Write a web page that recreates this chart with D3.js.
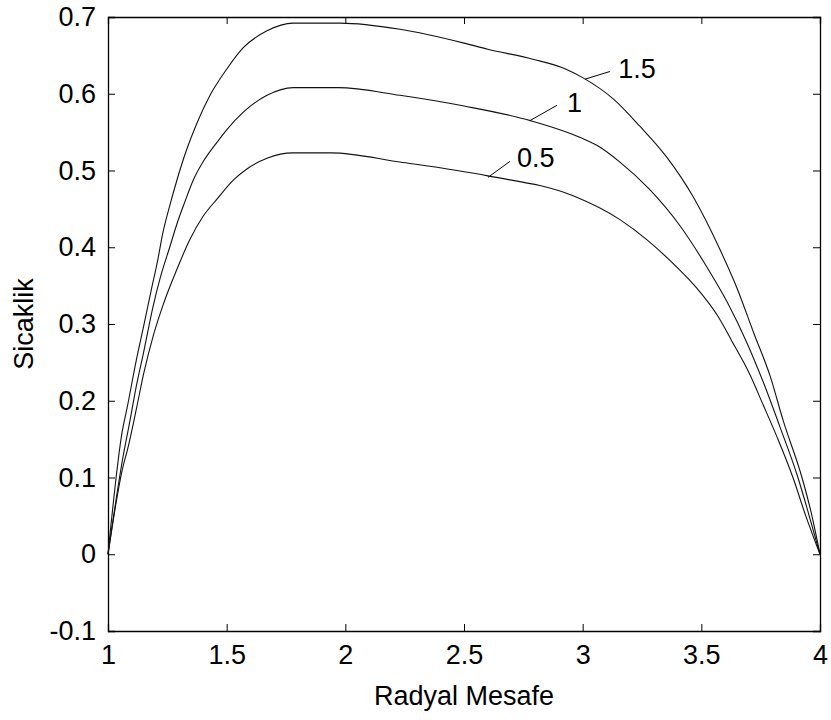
<!DOCTYPE html>
<html>
<head>
<meta charset="utf-8">
<script src="https://cdn.jsdelivr.net/npm/d3@7"></script>
<style>
  body { margin: 0; background: #fff; }
  svg text { font-family: Arial, "Liberation Sans", sans-serif; }
</style>
</head>
<body>
<div id="chart"></div>
<script>
// Datos: [radio, temperatura]
const serie05 = [
  [1.00, 0], [1.06, 0.11], [1.085, 0.14], [1.12, 0.19], [1.15, 0.235], [1.19, 0.284],
  [1.23, 0.323], [1.29, 0.371], [1.345, 0.410], [1.40, 0.440], [1.46, 0.463], [1.53, 0.488],
  [1.585, 0.502], [1.67, 0.516], [1.78, 0.523], [1.94, 0.523], [2.23, 0.511], [2.60, 0.493],
  [2.96, 0.467], [3.157, 0.436], [3.27, 0.410], [3.40, 0.373], [3.48, 0.347], [3.57, 0.310],
  [3.63, 0.277], [3.70, 0.237], [3.76, 0.195], [3.82, 0.152], [3.886, 0.10], [3.94, 0.05], [4.00, 0]
];
const serie1 = [
  [1.00, 0], [1.065, 0.13], [1.09, 0.17], [1.12, 0.22], [1.15, 0.263], [1.19, 0.323],
  [1.22, 0.360], [1.26, 0.400], [1.29, 0.43], [1.32, 0.456], [1.36, 0.488], [1.40, 0.511],
  [1.46, 0.537], [1.50, 0.553], [1.57, 0.576], [1.67, 0.598], [1.78, 0.608], [1.97, 0.608],
  [2.23, 0.598], [2.50, 0.584], [2.78, 0.565], [2.99, 0.543], [3.07, 0.531], [3.157, 0.511],
  [3.28, 0.476], [3.41, 0.428], [3.52, 0.376], [3.61, 0.328], [3.69, 0.277], [3.76, 0.225],
  [3.83, 0.167], [3.907, 0.10], [3.95, 0.055], [4.00, 0]
];
const serie15 = [
  [1.00, 0], [1.06, 0.16], [1.08, 0.19], [1.12, 0.254], [1.15, 0.297], [1.18, 0.341],
  [1.21, 0.384], [1.23, 0.417], [1.26, 0.454], [1.29, 0.487], [1.33, 0.526], [1.375, 0.562],
  [1.43, 0.598], [1.50, 0.632], [1.57, 0.660], [1.67, 0.682], [1.78, 0.692], [1.98, 0.692],
  [2.23, 0.684], [2.50, 0.666], [2.60, 0.658], [2.79, 0.645], [2.93, 0.632], [3.00, 0.621],
  [3.13, 0.593], [3.24, 0.558], [3.355, 0.517], [3.465, 0.466], [3.58, 0.396], [3.65, 0.347],
  [3.72, 0.289], [3.79, 0.232], [3.845, 0.174], [3.924, 0.10], [3.96, 0.058], [4.00, 0]
];

// Etiquetas de las curvas: texto, punto sobre la curva, fin de la línea guía, posición del texto
const etiquetas = [
  { text: "1.5", p0: [3.01, 0.619], p1: [3.115, 0.629], t: [3.15, 0.620] },
  { text: "1",   p0: [2.778, 0.565], p1: [2.892, 0.585], t: [2.934, 0.576] },
  { text: "0.5", p0: [2.601, 0.491], p1: [2.694, 0.512], t: [2.723, 0.504] }
];

const xTicks = [1, 1.5, 2, 2.5, 3, 3.5, 4];
const yTicks = [-0.1, 0, 0.1, 0.2, 0.3, 0.4, 0.5, 0.6, 0.7];

const W = 831, H = 720;
const margin = { top: 17, right: 11, bottom: 89, left: 108 };
const width = W - margin.left - margin.right;
const height = H - margin.top - margin.bottom;

const svg = d3.select("#chart")
  .append("svg")
  .attr("width", W)
  .attr("height", H)
  .append("g")
  .attr("transform", `translate(${margin.left}, ${margin.top})`);

const x = d3.scaleLinear().domain([1, 4]).range([0, width]);
const y = d3.scaleLinear().domain([-0.1, 0.7]).range([height, 0]);

const fs = 27;
const tickLen = 7;

// Ejes con marcas hacia dentro (estilo MATLAB)
const axB = svg.append("g")
  .attr("transform", `translate(0, ${height})`)
  .call(d3.axisBottom(x).tickValues(xTicks).tickSize(-tickLen).tickPadding(14)
    .tickFormat(d3.format("")));
const axT = svg.append("g")
  .call(d3.axisTop(x).tickValues(xTicks).tickSize(-tickLen).tickFormat(""));
const axL = svg.append("g")
  .call(d3.axisLeft(y).tickValues(yTicks).tickSize(-tickLen).tickPadding(12)
    .tickFormat(d3.format("")));
const axR = svg.append("g")
  .attr("transform", `translate(${width}, 0)`)
  .call(d3.axisRight(y).tickValues(yTicks).tickSize(-tickLen).tickFormat(""));

[axB, axT, axL, axR].forEach(a => {
  a.select(".domain").attr("stroke", "#000").attr("stroke-width", 1.3);
  a.selectAll(".tick line").attr("stroke", "#000").attr("stroke-width", 1);
  a.selectAll("text").attr("font-size", fs).attr("fill", "#000")
    .style("font-family", "Arial, 'Liberation Sans', sans-serif");
});
axL.selectAll("text").text(d => d === 0 ? "0" : d3.format("")(d).replace("−", "-"));

// Curvas
const line = d3.line()
  .x(d => x(d[0]))
  .y(d => y(d[1]))
  .curve(d3.curveMonotoneX);
[serie05, serie1, serie15].forEach(s => {
  svg.append("path")
    .datum(s)
    .attr("fill", "none")
    .attr("stroke", "#111")
    .attr("stroke-width", 1.1)
    .attr("d", line);
});

// Etiquetas de las curvas
etiquetas.forEach(e => {
  svg.append("line")
    .attr("x1", x(e.p0[0])).attr("y1", y(e.p0[1]))
    .attr("x2", x(e.p1[0])).attr("y2", y(e.p1[1]))
    .attr("stroke", "#000").attr("stroke-width", 1);
  svg.append("text")
    .attr("x", x(e.t[0]))
    .attr("y", y(e.t[1]))
    .attr("font-size", fs)
    .attr("fill", "#000")
    .text(e.text);
});

// Títulos de los ejes
svg.append("text")
  .attr("text-anchor", "middle")
  .attr("font-size", fs)
  .attr("x", width / 2)
  .attr("y", height + 74)
  .text("Radyal Mesafe");

svg.append("text")
  .attr("text-anchor", "middle")
  .attr("font-size", fs)
  .attr("transform", "rotate(-90)")
  .attr("x", -height / 2)
  .attr("y", -75)
  .text("Sicaklik");
</script>
</body>
</html>
